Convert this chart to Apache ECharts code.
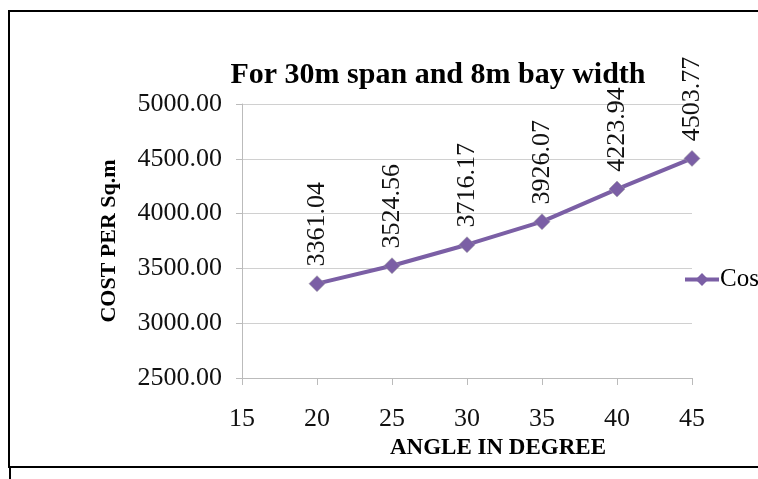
<!DOCTYPE html>
<html><head><meta charset="utf-8">
<script src="https://cdn.jsdelivr.net/npm/echarts@6/dist/echarts.min.js"></script>
<style>html,body{margin:0;padding:0;background:#fff}#c{width:758px;height:479px}</style>
</head><body><div id="c"></div>
<script>
const angles = [20, 25, 30, 35, 40, 45];
const costs = [3361.04, 3524.56, 3716.17, 3926.07, 4223.94, 4503.77];
const seriesName = 'Cost';
const titleText = 'For 30m span and 8m bay width';
const xName = 'ANGLE IN DEGREE';
const yName = 'COST PER Sq.m';

const serif = '"Liberation Serif", "DejaVu Serif", serif';
const purple = '#7b5fa5';
const chart = echarts.init(document.getElementById('c'));
chart.setOption({
  animation: false,
  backgroundColor: '#fff',
  graphic: [
    {type: 'rect', shape: {x: 9, y: 11, width: 800, height: 456}, style: {fill: 'none', stroke: '#000', lineWidth: 2}, z: 100},
    {type: 'line', shape: {x1: 10, y1: 467, x2: 10, y2: 479}, style: {stroke: '#000', lineWidth: 2}, z: 100}
  ],
  title: {
    text: titleText, left: 433, top: 55, textAlign: 'center',
    textStyle: {fontFamily: serif, fontWeight: 'bold', fontSize: 30, color: '#000'}
  },
  grid: {left: 242, right: 66, top: 104, bottom: 101},
  legend: {
    data: [seriesName],
    left: 678, top: 262, itemWidth: 34, itemHeight: 16, itemGap: 4,
    itemStyle: {color: purple, borderWidth: 0},
    lineStyle: {color: purple, width: 4},
    textStyle: {fontFamily: serif, fontSize: 25, color: '#000', padding: [0, 0, 0, -4]}
  },
  xAxis: {
    type: 'value', min: 15, max: 45, interval: 5,
    name: xName, nameLocation: 'middle', nameGap: 52,
    nameTextStyle: {fontFamily: serif, fontWeight: 'bold', fontSize: 23, color: '#000', padding: [0, 0, 0, 62]},
    axisLine: {show: true, lineStyle: {color: '#bbb', width: 1}},
    axisTick: {show: true, length: 7, lineStyle: {color: '#bbb'}},
    axisLabel: {fontFamily: serif, fontSize: 26, color: '#111', margin: 28},
    splitLine: {show: false}
  },
  yAxis: {
    type: 'value', min: 2500, max: 5000, interval: 500,
    name: yName, nameLocation: 'middle', nameGap: 122, nameRotate: 90,
    nameTextStyle: {fontFamily: serif, fontWeight: 'bold', fontSize: 22, color: '#000'},
    axisLine: {show: true, lineStyle: {color: '#bbb', width: 1}},
    axisTick: {show: true, length: 6, lineStyle: {color: '#bbb'}},
    axisLabel: {fontFamily: serif, fontSize: 26, color: '#111', margin: 20,
      formatter: v => v.toFixed(2)},
    splitLine: {show: true, lineStyle: {color: '#d0d0d0', width: 1}}
  },
  series: [{
    name: seriesName, type: 'line',
    data: angles.map((a, i) => [a, costs[i]]),
    symbol: 'diamond', symbolSize: 16,
    lineStyle: {color: purple, width: 4},
    itemStyle: {color: purple, borderColor: '#9a9a9a', borderWidth: 0.5},
    label: {
      show: true, position: 'top', distance: 9, rotate: 90,
      align: 'left', verticalAlign: 'middle',
      fontFamily: serif, fontSize: 26, color: '#111',
      formatter: p => p.value[1].toFixed(2)
    }
  }]
});
</script></body></html>
